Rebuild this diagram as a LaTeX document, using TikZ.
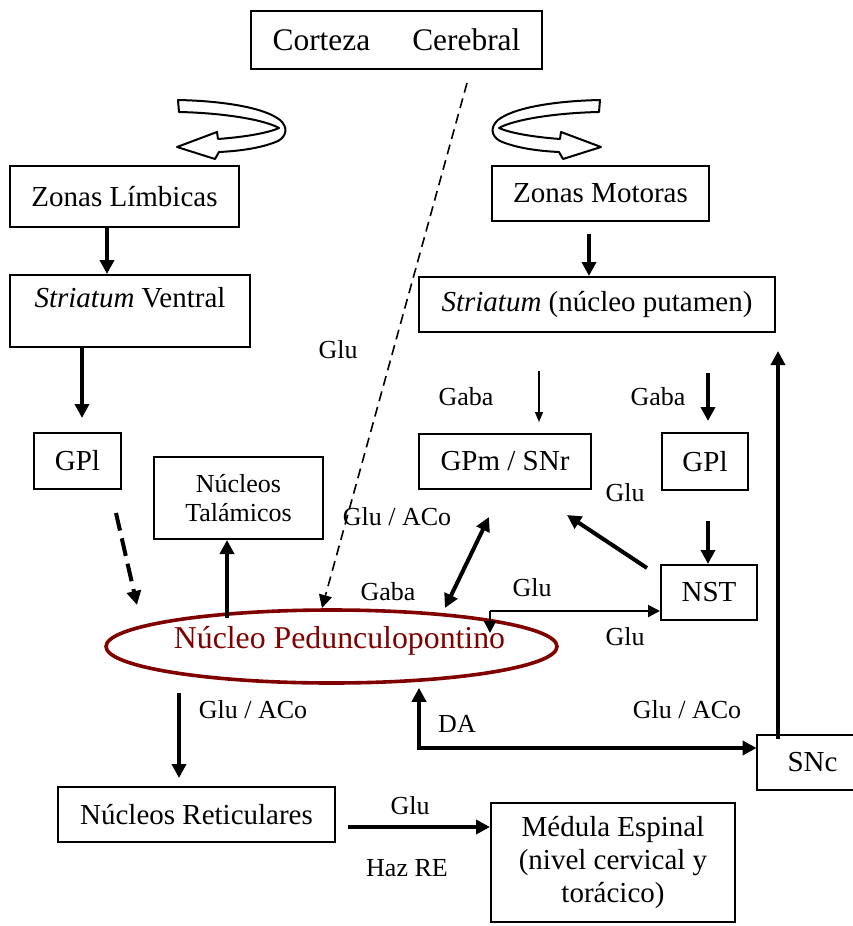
\documentclass[tikz,border=0pt]{standalone}
\usepackage{fontspec}
\setmainfont{Liberation Serif}
\usetikzlibrary{arrows.meta,shapes.geometric}

\definecolor{nppred}{RGB}{128,0,0}

\tikzset{pics/turnarrow/.style={code={
  \draw[ribbon] (178,100) .. controls (225,101) and (265,108) .. (280,120)
    .. controls (288,127) and (287,136) .. (278,141)
    .. controls (262,148) and (240,151) .. (219,152)
    -- (215,159) -- (177,147) -- (217,132) -- (218,139)
    .. controls (245,137) and (268,133) .. (279,128)
    .. controls (265,120) and (225,113) .. (179,112) -- cycle;
}}}

\begin{document}
\begin{tikzpicture}[
        x=0.5pt, y=-0.5pt,
        box/.style={draw, line width=1pt, inner sep=0pt, align=center,
          font=\fontsize{14.5}{17}\selectfont},
        lbl/.style={inner sep=0pt, font=\fontsize{13}{15}\selectfont},
        arr/.style={line width=2pt, -{Triangle[length=7pt,width=7pt]}},
        dblarr/.style={line width=2pt, {Triangle[length=7pt,width=7pt]}-{Triangle[length=7pt,width=7pt]}},
        thinarr/.style={line width=0.7pt, -{Triangle[length=5pt,width=4pt]}},
        midarr/.style={line width=1pt, -{Triangle[length=6pt,width=6pt]}},
        ribbon/.style={draw, fill=white, line width=1pt, line join=round}]

      \useasboundingbox (0,0) rectangle (852,926);

      % top
      \node[box, minimum width=145.5pt, minimum height=29pt,
        font=\fontsize{15.7}{18}\selectfont] (corteza) at (396.5,40) {Corteza\hspace{21pt}Cerebral};
      \pic at (0,0) {turnarrow};
      \pic[xscale=-1] at (778,0) {turnarrow};

      \node[box, minimum width=114.5pt, minimum height=30.5pt] (limbic) at (124.5,196.5) {Zonas Límbicas};
      \node[box, minimum width=108.5pt, minimum height=27.5pt] (motor) at (600.5,193.5) {Zonas Motoras};

      \node[box, minimum width=120pt, minimum height=36pt, text height=10pt, text depth=14pt] (striatv) at (130,311) {\textit{Striatum} Ventral};
      \node[box, minimum width=178pt, minimum height=27.5pt] (putamen) at (597,304.5) {\textit{Striatum} (núcleo putamen)};

      % middle
      \node[box, minimum width=43.5pt, minimum height=28pt] (gpl1) at (77.5,461) {GPl};
      \node[box, minimum width=86pt, minimum height=27.5pt] (gpm) at (505,461.5) {GPm / SNr};
      \node[box, minimum width=43pt, minimum height=28.5pt] (gpl2) at (705,461.5) {GPl};
      \node[box, minimum width=84.5pt, minimum height=41pt,
        font=\fontsize{13}{14.5}\selectfont] (talam) at (238.5,498) {Núcleos\\Talámicos};
      \node[box, minimum width=48pt, minimum height=27.5pt] (nst) at (709,592.5) {NST};

      \node[ellipse, draw=nppred, line width=1.8pt, minimum width=225.5pt, minimum height=36.5pt,
        inner xsep=-18pt, inner ysep=0pt, text=nppred, text height=10pt, text depth=8pt,
        font=\fontsize{15.9}{18}\selectfont] (npp) at (331.5,646.5) {\hspace*{8pt}Núcleo Pedunculopontino};

      \node[inner sep=0pt, minimum width=55.5pt, minimum height=27.5pt,
        font=\fontsize{14.5}{17}\selectfont] (snc) at (812.5,762.5) {SNc};
      \draw[line width=1pt] (snc.north east) -- (snc.north west) -- (snc.south west) -- (snc.south east);

      % bottom
      \node[box, minimum width=138.5pt, minimum height=27.5pt] (retic) at (196.5,814.5) {Núcleos Reticulares};
      \node[box, minimum width=122pt, minimum height=59.5pt,
        font=\fontsize{14.5}{16.5}\selectfont] (medula) at (613,862.5) {Médula Espinal\\(nivel cervical y\\torácico)};

      \coordinate (nppin) at (322,608);
      \coordinate (gplin) at (137,605);
      \coordinate (gpmin) at (567,515);
      \coordinate (dblA) at (489,517);
      \coordinate (dblB) at (445,608);
      \coordinate (fork) at (490,611);
      \coordinate (forkdown) at (490,633);
      \coordinate (dacorner) at (419,748);

      \draw[arr] (107,0 |- limbic.south) -- (107,0 |- striatv.north);
      \draw[arr] ([yshift=-6pt]589,0 |- motor.south) -- (589,0 |- putamen.north);
      \draw[arr] (82,0 |- striatv.south) -- ([yshift=7pt]82,0 |- gpl1.north);
      \draw[thinarr] ([yshift=-19pt]539,0 |- putamen.south) -- ([yshift=5.5pt]539,0 |- gpm.north);
      \draw[arr] ([yshift=-20pt]708,0 |- putamen.south) -- ([yshift=5.5pt]708,0 |- gpl2.north);
      \draw[arr] ([yshift=-15pt]708,0 |- gpl2.south) -- (708,0 |- nst.north);
      \draw[arr] ([xshift=-6.5pt,yshift=-2pt]nst.north west) -- (gpmin);
      \draw[dblarr] (dblA) -- (dblB);
      \draw[line width=0.8pt, dash pattern=on 5pt off 3pt, -{Triangle[length=6.5pt,width=6.5pt]}]
        ([yshift=-6.5pt]467,0 |- corteza.south) -- (nppin);
      \draw[line width=2pt, dash pattern=on 9pt off 4pt, -{Triangle[length=7pt,width=7pt]}]
        ([yshift=-11.5pt]116,0 |- gpl1.south) -- (gplin);
      \draw[arr] ([yshift=-5pt]227,0 |- npp.north) -- (227,0 |- talam.south);
      \draw[midarr] (fork) -- (fork -| nst.west);
      \draw[midarr] (fork) -- (forkdown);
      \draw[dblarr] ([yshift=-1.5pt]dacorner |- npp.south) -- (dacorner) -- (dacorner -| snc.west);
      \draw[arr] ([yshift=-2pt]778,0 |- snc.north) -- ([yshift=-9pt]778,0 |- putamen.south);
      \draw[arr] ([yshift=-4pt]179,0 |- npp.south) -- ([yshift=4pt]179,0 |- retic.north);
      \draw[arr] ([xshift=6pt,yshift=-6.25pt]retic.east) -- ([yshift=-6.25pt]retic.east -| medula.west);

      % labels
      \node[lbl] (glu1) at (338,350) {Glu};
      \node[lbl] (gaba1) at (466,397) {Gaba};
      \node[lbl] (gaba2) at (658,397) {Gaba};
      \node[lbl] (glu2) at (625,493) {Glu};
      \node[lbl] (gluaco1) at (397,517) {Glu / ACo};
      \node[lbl] (gaba3) at (388,592) {Gaba};
      \node[lbl] (glu3) at (532,588) {Glu};
      \node[lbl] (glu4) at (625,637) {Glu};
      \node[lbl] (gluaco2) at (253,710) {Glu / ACo};
      \node[lbl] (da) at (457,724) {DA};
      \node[lbl] (gluaco3) at (687,710) {Glu / ACo};
      \node[lbl] (glu5) at (410,806) {Glu};
      \node[lbl] (hazre) at (407,868) {Haz RE};

    \end{tikzpicture}
\end{document}
